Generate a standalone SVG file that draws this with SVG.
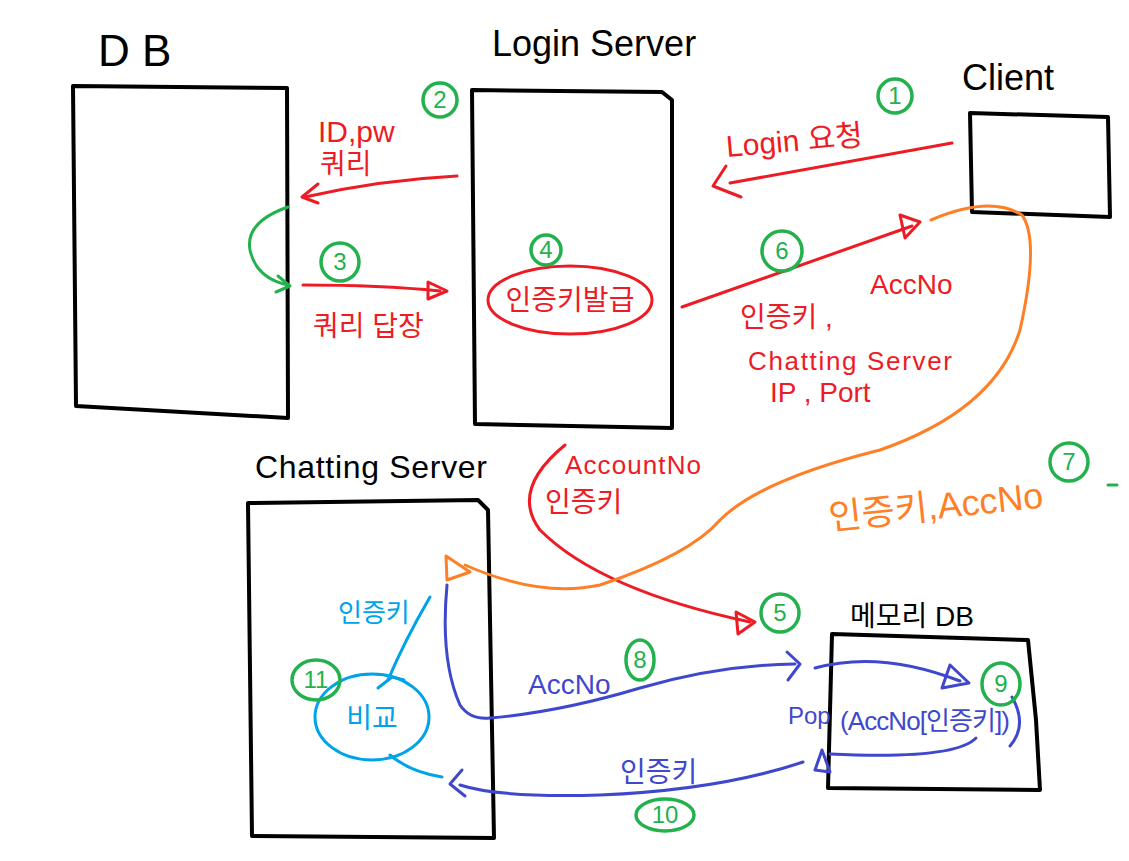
<svg xmlns="http://www.w3.org/2000/svg" width="1129" height="861" viewBox="0 0 1129 861">
<style>
.box{fill:none;stroke:#000;stroke-width:4;stroke-linejoin:round;stroke-linecap:round}
.ttl{font-family:"Liberation Sans","Noto Sans CJK KR",sans-serif;fill:#000}
.lbl{font-family:"Liberation Sans","Noto Sans CJK KR",sans-serif}
.r{stroke:#ed1c24}.g{stroke:#22b14c}.o{stroke:#ff7f27}.b{stroke:#3f48cc}.c{stroke:#00a2e8}
.ln{fill:none;stroke-width:3;stroke-linecap:round;stroke-linejoin:round}
.tr{fill:#ed1c24}.to{fill:#ff7f27}.tb{fill:#3f48cc}.tc{fill:#00a2e8}
.num{fill:none;stroke:#22b14c;stroke-width:3.5}
.nt{font-family:"Liberation Sans",sans-serif;font-size:24px;fill:#22b14c;text-anchor:middle}
</style>
<rect width="1129" height="861" fill="#fff"/>

<g id="db">
<path class="box" d="M73 86 L287 88 L288 418 L76 406 Z"/>
<text class="ttl" x="98" y="66" font-size="44">D B</text>
</g>
<g id="login-server">
<path class="box" d="M472 90 L662 92 L672 100 L672 428 L475 424 Z"/>
<text class="ttl" x="492" y="56" font-size="36">Login Server</text>
<ellipse cx="570" cy="300" rx="82" ry="34" class="ln r" fill="none"/>
<text class="lbl tr" x="570" y="310" text-anchor="middle" font-size="28">인증키발급</text>
</g>
<g id="client">
<path class="box" d="M970 113 L1108 117 L1110 217 L972 212 Z"/>
<text class="ttl" x="962" y="90" font-size="36">Client</text>
</g>
<g id="chatting-server">
<path class="box" d="M248 503 L478 500 L488 510 L494 838 L252 836 Z"/>
<text class="ttl" x="255" y="478" font-size="32" textLength="232">Chatting Server</text>
<ellipse cx="372" cy="717" rx="57" ry="43" class="ln c" fill="none"/>
<text class="lbl tc" x="372" y="728" text-anchor="middle" font-size="28">비교</text>
</g>
<g id="memory-db">
<path class="box" d="M832 634 L1028 640 L1036 720 L1040 790 L828 788 Z"/>
<text class="ttl" x="850" y="626" font-size="28">메모리 DB</text>
</g>

<g id="connectors">
<path class="ln r" d="M457 176 Q380 180 305 197"/>
<path class="ln r" d="M318 184 L302 197 L318 203"/>
<path class="ln g" d="M288 207 Q245 222 250 250 Q256 278 288 285"/>
<path class="ln g" d="M278 276 L290 286 L276 292"/>
<path class="ln r" d="M303 285 Q380 285 440 291"/>
<path class="ln r" fill="none" d="M428 282 L447 291 L428 299 Z"/>
<path class="ln r" d="M952 143 Q830 165 730 183"/>
<path class="ln r" d="M726 166 L713 186 L741 197"/>
<path class="ln r" d="M682 307 Q800 265 912 226"/>
<path class="ln r" fill="none" d="M900 215 L920 222 L905 238 Z"/>
<path class="ln r" d="M565 445 Q510 490 540 530 Q600 590 750 622"/>
<path class="ln r" fill="none" d="M736 612 L755 622 L738 634 Z"/>
<path class="ln o" d="M931 220 Q990 195 1022 215 Q1040 240 1020 330 Q995 410 880 450 Q760 480 720 520 Q690 555 600 585 Q540 598 465 565"/>
<path class="ln o" fill="none" d="M446 556 L470 572 L447 580 Z"/>
<path class="ln b" d="M447 585 Q440 660 460 705 Q470 720 490 718 Q560 712 640 688 Q720 665 795 664"/>
<path class="ln b" d="M787 652 L800 664 L788 680"/>
<path class="ln b" d="M815 668 Q880 650 960 681"/>
<path class="ln b" fill="none" d="M950 665 L969 683 L942 688 Z"/>
<path class="ln b" d="M1012 697 Q1028 725 1010 746"/>
<path class="ln b" d="M976 738 Q955 760 830 754"/>
<path class="ln b" fill="none" d="M822 750 L815 770 L830 772 Z"/>
<path class="ln b" d="M803 762 Q720 790 600 795 Q500 798 460 785"/>
<path class="ln b" d="M462 770 L450 784 L465 796"/>
<path class="ln c" d="M430 597 Q405 640 388 680"/>
<path class="ln c" d="M378 688 L392 677 L404 680"/>
<path class="ln c" d="M390 755 Q410 772 442 777"/>
</g>

<g id="labels">
<text class="lbl tr" x="318" y="142" font-size="30">ID,pw</text>
<text class="lbl tr" x="320" y="174" font-size="28">쿼리</text>
<text class="lbl tr" x="313" y="336" font-size="28">쿼리 답장</text>
<text class="lbl tr" x="727" y="157" font-size="30" transform="rotate(-5 727 157)">Login 요청</text>
<text class="lbl tr" x="740" y="327" font-size="28">인증키 ,</text>
<text class="lbl tr" x="870" y="294" font-size="28">AccNo</text>
<text class="lbl tr" x="748" y="370" font-size="26" textLength="204">Chatting Server</text>
<text class="lbl tr" x="770" y="402" font-size="28">IP , Port</text>
<text class="lbl tr" x="565" y="474" font-size="26" textLength="136">AccountNo</text>
<text class="lbl tr" x="545" y="512" font-size="28">인증키</text>
<text class="lbl to" x="830" y="530" font-size="36" transform="rotate(-6 830 530)">인증키,AccNo</text>
<text class="lbl tc" x="338" y="622" font-size="26">인증키</text>
<text class="lbl tb" x="528" y="694" font-size="28">AccNo</text>
<text class="lbl tb" x="788" y="724" font-size="24">Pop</text>
<text class="lbl tb" x="840" y="730" font-size="26" textLength="170">(AccNo[인증키])</text>
<text class="lbl tb" x="620" y="782" font-size="28">인증키</text>
</g>

<g id="steps">
<circle class="num" cx="895" cy="96" r="17"/><text class="nt" x="895" y="104">1</text>
<circle class="num" cx="440" cy="100" r="17"/><text class="nt" x="440" y="108">2</text>
<circle class="num" cx="340" cy="262" r="19"/><text class="nt" x="340" y="270">3</text>
<circle class="num" cx="546" cy="250" r="15"/><text class="nt" x="546" y="258">4</text>
<circle class="num" cx="780" cy="613" r="19"/><text class="nt" x="780" y="621">5</text>
<circle class="num" cx="782" cy="251" r="20"/><text class="nt" x="782" y="259">6</text>
<circle class="num" cx="1069" cy="462" r="19"/><text class="nt" x="1069" y="470">7</text>
<ellipse class="num" cx="640" cy="660" rx="14" ry="20"/><text class="nt" x="640" y="668">8</text>
<ellipse class="num" cx="1001" cy="684" rx="19" ry="21"/><text class="nt" x="1001" y="692">9</text>
<ellipse class="num" cx="665" cy="815" rx="29" ry="16"/><text class="nt" x="665" y="823">10</text>
<ellipse class="num" cx="316" cy="680" rx="24" ry="20"/><text class="nt" x="316" y="688">11</text>
<path class="ln g" d="M1108 485 L1117 485"/>
</g>
</svg>
